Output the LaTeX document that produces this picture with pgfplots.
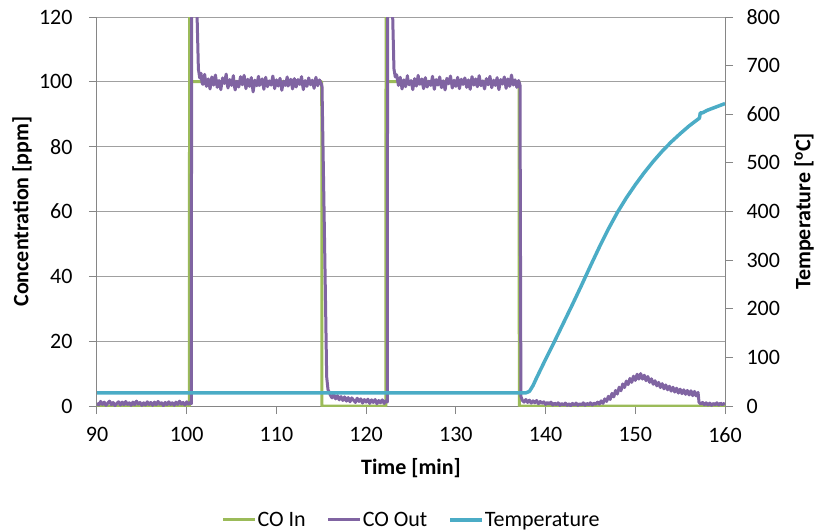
\documentclass[border=0pt]{standalone}
\usepackage{fontspec}
\setmainfont{Carlito}
\usepackage{pgfplots}
\pgfplotsset{compat=1.18}

\definecolor{coin}{HTML}{9BBB59}
\definecolor{coout}{HTML}{8064A2}
\definecolor{tempc}{HTML}{4BACC6}
\definecolor{axisgray}{HTML}{868686}
\definecolor{gridgray}{HTML}{A0A0A0}

\newcommand{\chartfont}{\fontsize{22}{26}\selectfont}

\pgfplotsset{
  base/.style={
    scale only axis, width=628pt, height=389pt,
    xmin=90, xmax=160,
    /pgf/number format/assume math mode=true,
    tick label style={font=\chartfont},
    label style={font=\bfseries\chartfont},
    tick style={axisgray, line width=1pt},
    axis line style={axisgray, line width=1pt},
    major tick length=8pt,
    tick align=outside,
  },
}

\begin{document}
\begin{tikzpicture}
\useasboundingbox (-97pt,-125pt) rectangle (719pt,406pt);

% concentrations, left axis
\begin{axis}[base,
  ymin=0, ymax=120, ytick={0,20,...,120},
  xtick={90,100,...,160},
  axis y line*=left, axis x line*=bottom,
  ymajorgrids, grid style={gridgray, line width=1pt},
  xticklabel style={yshift=-10pt},
  yticklabel style={xshift=-13pt},
  xlabel={Time [min]}, ylabel={Concentration [ppm]},
  xlabel style={at={(axis description cs:0.5,-0.16)}, anchor=center},
  ylabel style={at={(axis description cs:-0.1194,0.5)}, anchor=center},
]
% CO In
\addplot[coin, line width=3pt, line join=round] coordinates {
 (90,0) (100.3,0) (100.32,150) (100.4,100.1) (115.05,100.1) (115.07,0)
 (122.2,0) (122.22,150) (122.3,100.1) (137.05,100.1) (137.07,0) (160,0)
};
% CO Out
\addplot[coout, line width=3pt, line join=round] coordinates {
 (90.0,0.9) (90.2,0.3) (90.4,1.4) (90.6,0.5) (90.8,1.2) (91.0,0.2) (91.2,0.9) (91.4,1.5)
 (91.6,0.4) (91.8,1.1) (92.0,0.1) (92.2,0.8) (92.4,1.3) (92.6,0.3) (92.8,1.2) (93.0,0.4)
 (93.2,1.4) (93.4,0.5) (93.6,1.0) (93.8,0.2) (94.0,1.2) (94.2,0.4) (94.4,1.5) (94.6,0.6)
 (94.8,1.1) (95.0,0.2) (95.2,1.0) (95.4,0.3) (95.6,1.3) (95.8,0.5) (96.0,1.1) (96.2,0.2)
 (96.4,1.2) (96.6,0.4) (96.8,1.4) (97.0,0.6) (97.2,1.0) (97.4,0.1) (97.6,1.1) (97.8,0.4)
 (98.0,1.3) (98.2,0.5) (98.4,1.0) (98.6,0.2) (98.8,1.2) (99.0,0.5) (99.2,1.5) (99.4,0.6)
 (99.6,1.1) (99.8,0.3) (100.0,1.3) (100.2,0.6) (100.4,1.1) (100.52,0.7)
 (100.55,160) (101.15,121) (101.3,104) (101.45,101.2)
 (101.6,102.6) (101.7,99.8) (101.8,99.2) (102.0,102.3) (102.1,100.2) (102.2,98.6) (102.4,100.9) (102.6,97.8)
 (102.8,101.5) (102.9,100.1) (103.0,99.0) (103.2,102.1) (103.4,98.3) (103.5,99.9) (103.6,100.4) (103.8,97.6)
 (104.0,101.2) (104.2,99.5) (104.4,102.4) (104.5,99.6) (104.6,98.1) (104.8,100.7) (105.0,98.9)
 (105.2,101.9) (105.3,99.0) (105.4,97.5) (105.6,100.2) (105.8,98.4) (106.0,101.6) (106.1,100.4) (106.2,99.1)
 (106.4,102.0) (106.6,97.9) (106.8,100.8) (106.9,99.5) (107.0,98.6) (107.2,101.3) (107.4,96.9)
 (107.6,100.5) (107.8,98.8) (108.0,101.7) (108.1,98.9) (108.2,99.3) (108.4,100.9) (108.6,97.7)
 (108.8,101.4) (109.0,98.5) (109.2,100.3) (109.4,99.0) (109.6,101.8) (109.7,100.0) (109.8,97.9)
 (110.0,100.6) (110.2,98.7) (110.4,101.1) (110.6,97.4) (110.8,100.2) (111.0,98.9)
 (111.2,101.5) (111.3,98.7) (111.4,99.4) (111.6,100.8) (111.8,97.8) (112.0,101.0) (112.2,98.4)
 (112.4,100.7) (112.6,99.2) (112.8,101.6) (112.9,99.3) (113.0,97.6) (113.2,100.4) (113.4,98.6)
 (113.6,101.2) (113.8,99.1) (114.0,100.5) (114.1,99.2) (114.2,98.0) (114.4,101.4) (114.6,98.8)
 (114.8,100.6) (115.0,99.4) (115.08,98.5)
 (115.3,62) (115.45,36) (115.6,9) (115.75,5) (115.9,4.2)
 (116.0,3.4) (116.2,2.5) (116.4,3.6) (116.6,2.2) (116.8,3.2) (117.0,1.9) (117.2,2.9)
 (117.4,1.7) (117.6,2.8) (117.8,1.5) (118.0,2.6) (118.2,1.3) (118.4,2.5) (118.6,1.8)
 (118.8,1.1) (119.0,2.4) (119.2,1.4) (119.4,2.2) (119.6,0.9) (119.8,2.0) (120.0,1.2)
 (120.2,2.1) (120.4,0.8) (120.6,1.9) (120.8,1.1) (121.0,2.0) (121.2,0.7) (121.4,1.7)
 (121.6,1.0) (121.8,1.9) (122.0,0.8) (122.2,1.6) (122.36,1.2)
 (122.4,165) (122.95,121) (123.1,104) (123.25,101.5)
 (123.4,102.2) (123.6,98.9) (123.7,100.3) (123.8,101.4) (124.0,97.8) (124.2,100.6) (124.4,98.5)
 (124.6,101.9) (124.7,99.7) (124.8,99.1) (125.0,100.4) (125.2,97.6) (125.4,101.0) (125.6,98.7)
 (125.8,102.0) (125.9,99.4) (126.0,99.3) (126.2,100.9) (126.4,97.9) (126.6,101.3) (126.8,98.4)
 (127.0,100.2) (127.2,98.9) (127.4,101.7) (127.5,99.6) (127.6,97.7) (127.8,100.7) (128.0,99.0)
 (128.2,101.5) (128.4,98.2) (128.5,100.0) (128.6,100.3) (128.8,97.5) (129.0,101.1) (129.2,99.4)
 (129.4,101.8) (129.6,98.1) (129.8,100.5) (129.9,99.1) (130.0,98.6) (130.2,101.4) (130.4,97.9)
 (130.6,100.8) (130.8,99.2) (131.0,101.2) (131.1,100.1) (131.2,98.3) (131.4,100.6) (131.6,97.7)
 (131.8,101.6) (132.0,99.0) (132.2,100.9) (132.3,99.3) (132.4,98.5) (132.6,101.9) (132.8,98.8)
 (133.0,100.3) (133.2,97.8) (133.4,101.0) (133.5,99.7) (133.6,99.1) (133.8,101.7) (134.0,98.2)
 (134.2,100.5) (134.4,98.9) (134.6,101.3) (134.7,99.0) (134.8,97.6) (135.0,100.7) (135.2,99.3)
 (135.4,101.5) (135.6,98.0) (135.8,100.9) (135.9,99.8) (136.0,98.6) (136.2,102.1) (136.4,99.0)
 (136.6,100.6) (136.8,98.3) (137.0,100.4) (137.15,99.0)
 (137.25,3.0) (137.4,1.8) (137.6,1.2) (137.8,2.0) (138.0,1.1) (138.2,1.8) (138.4,0.9)
 (138.6,1.6) (138.8,1.0) (139.0,1.7) (139.2,0.7) (139.4,1.4) (139.6,0.8) (139.8,1.3)
 (140.0,0.5) (140.2,1.1) (140.4,0.6) (140.6,1.2) (140.8,0.3) (141.0,0.9) (141.2,0.4)
 (141.4,1.0) (141.6,0.2) (141.8,0.8) (142.0,0.3) (142.2,0.9) (142.4,0.2) (142.6,0.7)
 (142.8,0.1) (143.0,0.8) (143.2,0.3) (143.4,0.9) (143.6,0.2) (143.8,0.7) (144.0,0.3)
 (144.2,1.0) (144.4,0.2) (144.6,0.8) (144.8,0.4) (145.0,1.0) (145.2,0.3) (145.4,0.9)
 (145.6,0.5) (145.8,1.2) (146.0,0.6) (146.2,1.6) (146.4,0.8) (146.6,2.2) (146.8,1.4)
 (147.0,3.0) (147.2,2.0) (147.4,3.9) (147.6,2.8) (147.8,4.8) (148.0,3.7) (148.2,5.8)
 (148.4,4.7) (148.6,6.8) (148.8,5.7) (149.0,7.7) (149.2,6.6) (149.4,8.5) (149.6,7.3)
 (149.8,9.2) (150.0,7.9) (150.2,9.8) (150.4,8.3) (150.6,10.0) (150.8,8.3) (151.0,9.5)
 (151.2,7.8) (151.4,9.1) (151.6,7.3) (151.8,8.4) (152.0,6.7) (152.2,7.8) (152.4,6.2)
 (152.6,7.3) (152.8,5.7) (153.0,6.9) (153.2,5.3) (153.4,6.5) (153.6,5.0) (153.8,6.1)
 (154.0,4.6) (154.2,5.8) (154.4,4.3) (154.6,5.5) (154.8,4.0) (155.0,5.2) (155.2,3.8)
 (155.4,5.0) (155.6,3.6) (155.8,4.8) (156.0,3.4) (156.2,4.7) (156.4,3.2) (156.6,4.5)
 (156.8,3.1) (157.0,4.2) (157.1,1.2) (157.3,0.6) (157.5,1.1) (157.7,0.4) (157.9,1.0)
 (158.1,0.3) (158.3,0.9) (158.5,0.2) (158.7,0.8) (158.9,0.4) (159.1,1.0) (159.3,0.3)
 (159.5,0.9) (159.7,0.4) (159.9,0.8) (160.0,0.5)
};
\end{axis}

% temperature, right axis
\begin{axis}[base,
  ymin=0, ymax=800, ytick={0,100,...,800},
  axis y line*=right, axis x line=none,
  yticklabel style={xshift=10pt},
  ylabel={Temperature [\textsuperscript{o}C]},
  ylabel style={at={(axis description cs:1.1258,0.5)}, anchor=center},
  legend columns=-1,
  legend style={at={(axis description cs:0.5,-0.293)}, anchor=center,
    draw=none, fill=none, font=\chartfont,
    /tikz/every even column/.append style={column sep=20pt},
    /tikz/every odd column/.append style={column sep=0pt},
    nodes={inner sep=1pt}},
  legend image code/.code={\draw[#1] (0pt,0pt) -- (32pt,0pt);},
]
\addlegendimage{coin, line width=3pt}
\addlegendentry{CO In}
\addlegendimage{coout, line width=3pt}
\addlegendentry{CO Out}
\addplot[tempc, line width=3.5pt, line join=round] coordinates {
 (90,27) (137.8,27) (138.2,30) (138.6,42) (139,58) (139.5,77) (140,96) (141,133)
 (142,171) (143,209) (144,248) (145,288) (146,327) (147,364) (148,398) (149,428)
 (150,455) (151,480) (152,503) (153,524) (154,543) (155,560) (156,576) (157,590)
 (157.15,592) (157.25,603) (157.5,603) (158,608) (159,615) (160,622)
};
\addlegendentry{Temperature}
\end{axis}
\end{tikzpicture}
\end{document}
